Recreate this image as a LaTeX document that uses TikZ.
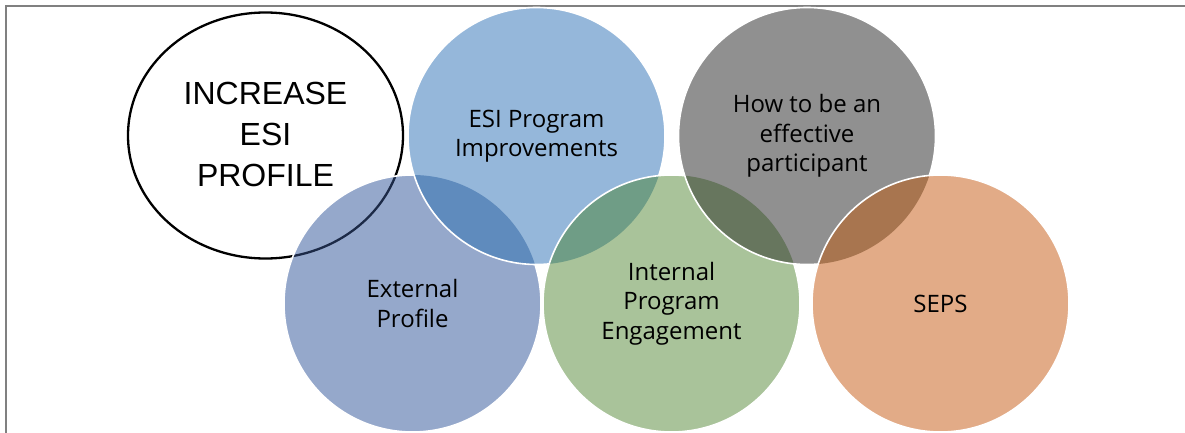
\documentclass[tikz,border=0pt]{standalone}
\usepackage{fontspec}
\setmainfont{Open Sans}
\newfontfamily\titlefont{Liberation Sans}
\usetikzlibrary{shapes.geometric}

\definecolor{extfill}{HTML}{95A8CB}
\definecolor{progfill}{HTML}{95B7DA}
\definecolor{intlfill}{HTML}{A9C39A}
\definecolor{partfill}{HTML}{909090}
\definecolor{sepsfill}{HTML}{E2AB87}
\definecolor{extprog}{HTML}{5F8BBD}
\definecolor{progintl}{HTML}{6F9D86}
\definecolor{intlpart}{HTML}{67765E}
\definecolor{partseps}{HTML}{A8754F}
\definecolor{rimnavy}{HTML}{1C2A47}

\begin{document}
\begin{tikzpicture}[
      x=1pt, y=-1pt,
      font=\fontsize{24}{29.5}\selectfont,
      venn/.style={circle, minimum size=257pt, inner sep=0pt, align=center},
      rim/.style={draw=white, line width=1.6pt},
      frame/.style={draw=gray, line width=1.3pt}
    ]

    \useasboundingbox (0,0) rectangle (1185,433);
    \draw[frame] (6,433) -- (6,6) -- (1185,6);

    % outlined goal
    \node[ellipse, draw, line width=2.3pt, minimum width=275pt, minimum height=246pt, inner sep=0pt] (incr) at (265.5,135.5) {};
    \node[align=center, font=\titlefont\fontsize{32}{41}\selectfont] (incrtext) at (265.5,134) {INCREASE\\ESI\\PROFILE};

    % circles, left to right, each lens darker where it overlaps the one before
    \node[venn, fill=extfill] (ext) at (412.5,303.5) {External\\Profile};
    \begin{scope}
      \clip (ext.center) circle[radius=128.5pt];
      \draw[rimnavy, line width=2.3pt] (incr.center) ellipse[x radius=137.5pt, y radius=123pt];
    \end{scope}
    \draw[rim] (ext.center) circle[radius=128.5pt];

    \node[venn, fill=progfill] (prog) at (536.5,136) {ESI Program\\Improvements};
    \begin{scope}
      \clip (prog.center) circle[radius=128.5pt];
      \fill[extprog] (ext.center) circle[radius=128.5pt];
    \end{scope}
    \draw[rim] (prog.center) circle[radius=128.5pt];

    \node[venn, fill=intlfill] (intl) at (671.5,303.5) {Internal\\Program\\Engagement};
    \begin{scope}
      \clip (intl.center) circle[radius=128.5pt];
      \fill[progintl] (prog.center) circle[radius=128.5pt];
    \end{scope}
    \draw[rim] (intl.center) circle[radius=128.5pt];

    \node[venn, fill=partfill] (part) at (807,136) {How to be an\\effective\\participant};
    \begin{scope}
      \clip (part.center) circle[radius=128.5pt];
      \fill[intlpart] (intl.center) circle[radius=128.5pt];
    \end{scope}
    \draw[rim] (part.center) circle[radius=128.5pt];

    \node[venn, fill=sepsfill] (seps) at (940.5,303.5) {SEPS};
    \begin{scope}
      \clip (seps.center) circle[radius=128.5pt];
      \fill[partseps] (part.center) circle[radius=128.5pt];
    \end{scope}
    \draw[rim] (seps.center) circle[radius=128.5pt];

\end{tikzpicture}
\end{document}
